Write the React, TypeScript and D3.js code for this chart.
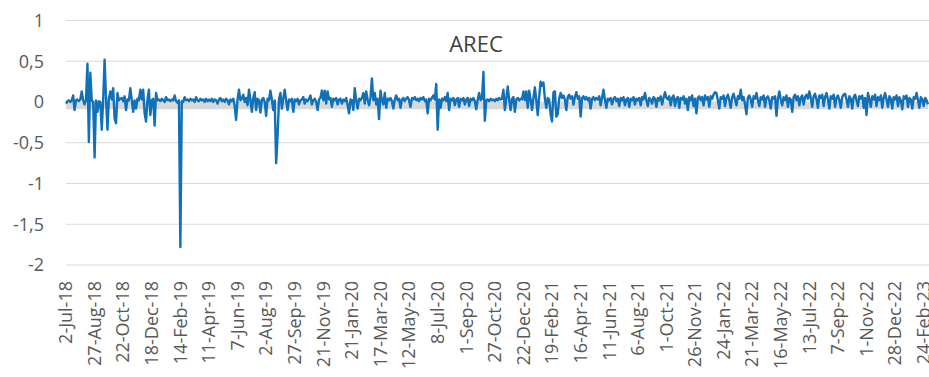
import React from 'react'
import * as d3 from 'd3'

// x tick labels, one every 20 samples (each sample = 2 trading days)
const dateLabels = [
  '2-Jul-18', '27-Aug-18', '22-Oct-18', '18-Dec-18', '14-Feb-19', '11-Apr-19', '7-Jun-19',
  '2-Aug-19', '27-Sep-19', '21-Nov-19', '21-Jan-20', '17-Mar-20', '12-May-20', '8-Jul-20',
  '1-Sep-20', '27-Oct-20', '22-Dec-20', '19-Feb-21', '16-Apr-21', '11-Jun-21', '6-Aug-21',
  '1-Oct-21', '26-Nov-21', '24-Jan-22', '21-Mar-22', '16-May-22', '13-Jul-22', '7-Sep-22',
  '1-Nov-22', '28-Dec-22', '24-Feb-23',
]
const labelStep = 20

const yTicks = [1, 0.5, 0, -0.5, -1, -1.5, -2]
const yTickLabels = ['1', '0,5', '0', '-0,5', '-1', '-1,5', '-2']

// AREC values
const arecJul18 = [
  -0.02, 0.01, 0.02, 0, 0.02, 0.08, -0.1, 0.02, 0.03, 0.01, 0.03, 0.13, 0.02, -0.03, 0.03, 0.47, -0.49, 0.36, 0.02, 0,
  -0.68, 0.02, -0.12, 0.01, 0, -0.34, 0.02, 0.52, 0.05, -0.34, 0.04, 0.13, 0.03, 0.17, -0.2, -0.26, 0.11, 0.02, 0.04, 0.05,
  0.01, 0.07, -0.1, 0.03, 0.02, 0.17, 0.03, -0.12, 0.02, -0.08, 0.04, 0.02, 0.15, 0.03, 0.15, -0.14, -0.24, 0.03, 0.15, -0.16,
  0.02, 0.04, -0.29, 0.11, 0.02, 0.03, 0.01, 0.04, 0.02, 0, 0.06, 0.02, 0.03, 0.01, 0.03, 0.02, 0.08, 0.01, -0.01, 0.02,
  -1.78, 0.01, 0, 0.06, 0.02, 0.03, 0.01, 0.04, 0.02, 0.03, 0, 0.06, 0.02, 0.01, 0.04, 0.02, 0.03, 0, 0.04, 0.01,
]
const arecApr19 = [
  0.03, 0.01, 0.04, 0, 0.03, 0.02, -0.02, 0.03, 0.05, 0.01, 0.03, 0, 0.04, 0.02, -0.03, 0.03, 0.01, 0.04, -0.05, -0.22,
  0.03, 0.15, 0.02, 0.04, 0.09, 0, 0.05, -0.04, 0.15, 0.03, -0.12, 0.05, 0.12, -0.1, 0.04, 0.02, -0.13, 0.03, 0.05, 0,
  -0.17, 0.04, 0.02, 0.14, 0.03, -0.1, 0.02, -0.75, -0.42, 0.03, 0.11, -0.08, 0.04, 0.15, 0.02, -0.1, 0.03, 0.01, 0.04, -0.12,
  0.03, 0.01, 0.04, -0.03, 0.02, 0.03, 0.06, -0.02, 0.03, 0.01, 0.04, 0.08, -0.03, 0.02, 0.04, 0, -0.1, 0.03, 0.05, 0.14,
  0.02, 0.14, -0.02, 0.13, 0.03, 0.05, -0.06, 0.04, 0.02, 0.05, -0.03, 0.03, 0.04, -0.02, 0.03, 0.01, 0.05, -0.04, -0.14, 0.03,
]
const arecJan20 = [
  0.02, -0.1, 0.17, 0.02, -0.08, 0.04, 0.02, 0.05, 0.11, -0.02, 0.13, 0.03, -0.04, 0.05, 0.29, 0.02, 0.11, -0.03, 0.04, -0.21,
  0.14, 0.02, -0.03, 0.11, -0.07, 0.04, 0.02, 0.05, 0.01, -0.08, 0.03, 0.08, 0.02, 0.04, -0.07, 0.03, 0.05, 0.01, 0.04, 0.06,
  0.02, -0.06, 0.05, 0.03, 0.06, 0.02, 0.04, 0.01, 0.05, 0.03, 0.06, 0.01, 0.03, -0.14, 0.04, 0.02, 0.05, 0.08, 0.03, 0.22,
  -0.34, 0.03, -0.07, 0.04, 0.02, 0.06, 0.01, 0.11, -0.1, 0.04, 0.02, 0.05, -0.04, 0.03, 0.05, -0.06, 0.04, 0.02, 0.05, -0.03,
  0.03, 0.05, -0.05, 0.04, 0.02, 0.05, 0.01, -0.09, 0.03, 0.11, 0.02, 0.04, 0.37, -0.23, 0.02, 0.03, 0.01, 0.04, 0.02, 0.03,
]
const arecDec20 = [
  0.01, 0.04, 0.02, 0.05, 0.03, 0.04, 0.15, -0.1, 0.04, 0.19, 0.03, -0.1, 0.04, 0.06, -0.12, 0.03, 0.05, 0.02, 0.04, 0.03,
  0.13, 0.02, 0.13, -0.07, 0.14, 0.03, -0.1, 0.05, 0.18, 0.02, -0.16, 0.06, 0.25, 0.2, 0.24, 0.04, -0.07, 0.05, 0.03, -0.15,
  -0.24, 0.12, 0.13, -0.18, -0.15, 0.04, 0.11, 0.05, 0.08, 0.03, -0.1, 0.06, 0.09, 0.04, 0.07, -0.03, 0.06, 0.12, 0.04, 0.07,
  -0.18, 0.05, 0.07, 0.03, 0.06, 0.02, 0.05, -0.08, 0.04, 0.06, 0.02, 0.05, 0.03, 0.07, -0.04, 0.05, 0.15, 0.03, -0.07, 0.04,
  0.02, 0.05, -0.03, 0.04, 0.06, 0.01, 0.04, -0.05, 0.05, 0.02, 0.06, -0.04, 0.03, 0.05, -0.06, 0.04, 0.02, 0.06, -0.03, 0.04,
]
const arecOct21 = [
  0.02, 0.05, -0.04, 0.06, 0.03, 0.11, 0.02, -0.05, 0.05, 0.03, -0.02, 0.06, 0.04, -0.06, 0.05, 0.02, 0.07, -0.03, 0.05, 0.12,
  0.05, 0.03, 0.07, -0.04, 0.05, 0.08, -0.05, 0.04, 0.06, -0.07, 0.05, 0.03, 0.07, -0.02, 0.04, -0.1, 0.06, 0.02, 0.08, -0.05,
  0.04, -0.14, 0.05, 0.07, 0.02, 0.06, -0.04, 0.08, 0.03, 0.06, -0.06, 0.07, 0.04, 0.09, 0.12, 0.11, 0.02, -0.08, 0.06, 0.04,
  0.08, -0.05, 0.05, 0.09, 0.02, -0.07, 0.06, 0.1, 0.03, -0.04, 0.07, 0.04, 0.15, 0.02, 0.06, -0.03, -0.15, 0.05, 0.08, 0.03,
  -0.06, 0.07, 0.04, 0.11, 0.02, -0.05, 0.06, 0.03, 0.08, -0.06, 0.05, 0.07, 0.02, -0.08, 0.06, 0.04, 0.07, -0.17, 0.04, 0.13,
]
const arecJul22 = [
  0.03, -0.04, 0.06, 0.02, 0.08, -0.06, 0.05, 0.03, -0.12, 0.06, 0.09, 0.02, 0.07, -0.04, 0.05, 0.08, -0.03, 0.06, 0.09, 0.04,
  0.13, 0.05, -0.06, 0.07, 0.1, 0.03, -0.07, 0.08, 0.05, 0.09, -0.05, 0.06, 0.11, 0.03, -0.08, 0.07, 0.04, 0.09, -0.06, 0.05,
  0.08, 0.02, -0.07, 0.06, 0.09, 0.1, 0.03, -0.06, 0.07, 0.04, -0.08, 0.06, 0.09, 0.02, -0.05, 0.07, 0.04, 0.08, -0.07, 0.05,
  -0.16, 0.11, 0.04, -0.06, 0.07, 0.03, 0.09, -0.05, 0.06, 0.02, 0.08, -0.07, 0.05, 0.11, 0.03, -0.06, 0.07, 0.04, -0.08, 0.06,
  0.03, 0.08, -0.05, 0.06, 0.02, -0.09, 0.07, 0.04, 0.08, -0.06, 0.05, 0.03, -0.08, 0.06, 0.04, 0.11, 0.02, -0.07, 0.06, 0.03,
  -0.05, 0.05, 0.02, -0.03,
]

// grey band under the zero line, one value per x label plus the last sample
const bandLow = [
  -0.09, -0.09, -0.09, -0.09, -0.09, -0.09, -0.09, -0.09, -0.09, -0.09, -0.09,
  -0.09, -0.09, -0.09, -0.09, -0.09, -0.09, -0.09, -0.09, -0.09, -0.09,
  -0.09, -0.09, -0.09, -0.09, -0.09, -0.09, -0.09, -0.09, -0.09, -0.09, -0.09,
]

const arec = [...arecJul18, ...arecApr19, ...arecJan20, ...arecDec20, ...arecOct21, ...arecJul22]

const W = 929
const H = 377
const plot = { left: 66, right: 928, top: 20.5, bottom: 265 }
const font = '"Open Sans", sans-serif'

export default function App() {
  const n = arec.length
  const x = d3.scaleLinear().domain([0, n - 1]).range([plot.left, plot.right])
  const y = d3.scaleLinear().domain([-2, 1]).range([plot.bottom, plot.top])

  const line = d3.line<number>()
    .x((_, i) => x(i))
    .y(d => y(d))

  const bandIdx = bandLow.map((_, i) => (i < dateLabels.length ? i * labelStep : n - 1))
  const band = d3.area<number>()
    .x((_, i) => x(bandIdx[i]))
    .y0(() => y(0))
    .y1(d => y(d))

  return (
    <svg width={W} height={H} style={{ position: 'absolute', left: 0, top: 0, display: 'block', background: '#fff' }}>
      {yTicks.map(t => (
        <line key={t} x1={plot.left} x2={W} y1={y(t)} y2={y(t)} stroke="#d9d9d9" strokeWidth={1.2} />
      ))}
      {yTicks.map((t, i) => (
        <text key={'l' + t} x={44} y={y(t)} dy="0.35em" textAnchor="end"
          fontFamily={font} fontSize={18} fill="#595959">{yTickLabels[i]}</text>
      ))}
      <path d={band(bandLow) || ''} fill="#d9d9d9" />
      <path d={line(arec) || ''} fill="none" stroke="#1070b8" strokeWidth={2.4} strokeLinejoin="round" />
      <text x={476} y={51.5} textAnchor="middle" fontFamily={font} fontSize={22} fill="#404040">AREC</text>
      {dateLabels.map((lab, i) => {
        const px = x(i * labelStep)
        return (
          <text key={lab} transform={`translate(${px},281) rotate(-90)`} dy="0.35em" textAnchor="end"
            fontFamily={font} fontSize={18} fill="#595959">{lab}</text>
        )
      })}
    </svg>
  )
}
